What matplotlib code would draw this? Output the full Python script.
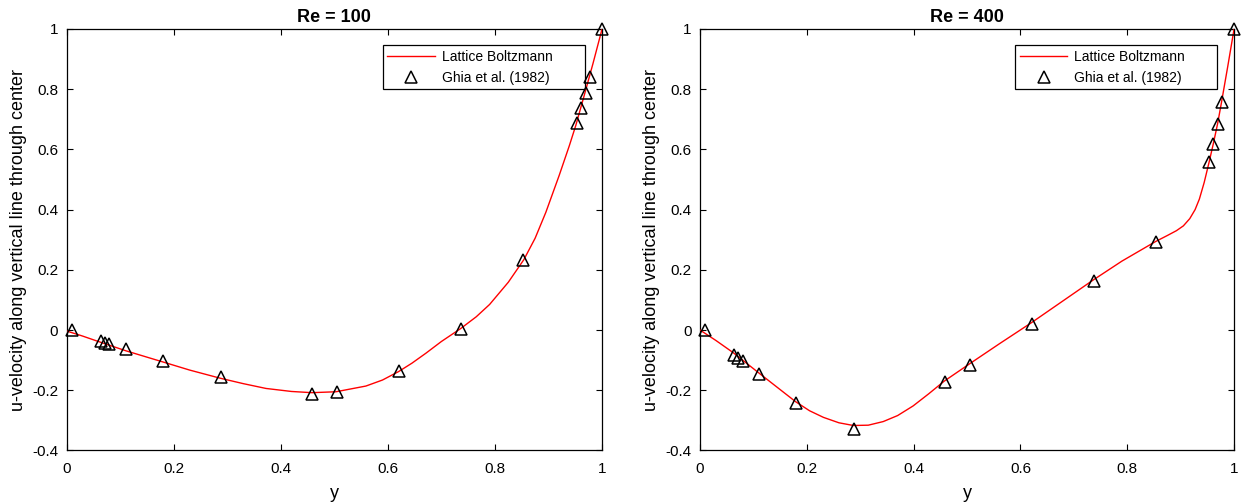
import matplotlib
matplotlib.use("Agg")
import matplotlib.pyplot as plt
from matplotlib.ticker import FuncFormatter

plt.rcParams['font.family'] = ['Liberation Sans', 'DejaVu Sans']

# Ghia et al. (1982) reference points (positions as plotted)
ghia_y = [0.010, 0.0642, 0.0719, 0.0796, 0.1106, 0.1802, 0.2885, 0.4586,
          0.505, 0.621, 0.737, 0.853, 0.9536, 0.9613, 0.9691, 0.9768, 1.000]
ghia_u_re100 = [0.0, -0.0372, -0.0419, -0.0478, -0.0643, -0.1015, -0.1566,
                -0.2109, -0.2058, -0.1364, 0.0033, 0.2315, 0.6872, 0.7372,
                0.7887, 0.8412, 1.0]
ghia_u_re400 = [0.0, -0.0819, -0.0927, -0.1034, -0.1461, -0.2430, -0.3273,
                -0.1712, -0.1148, 0.0214, 0.1626, 0.2909, 0.5589, 0.6176,
                0.6844, 0.7584, 1.0]

# Lattice Boltzmann profiles
lb_y_re100 = [0.0, 0.03, 0.061, 0.111, 0.18, 0.23, 0.287, 0.33, 0.3725,
              0.42, 0.458, 0.503, 0.559, 0.59, 0.62, 0.645, 0.671, 0.70,
              0.736, 0.765, 0.79, 0.825, 0.854, 0.875, 0.895, 0.92, 0.939,
              0.951, 0.966, 0.983, 1.0]
lb_u_re100 = [-0.003, -0.020, -0.039, -0.069, -0.106, -0.133, -0.160,
              -0.178, -0.194, -0.204, -0.208, -0.205, -0.186, -0.166, -0.138,
              -0.110, -0.077, -0.038, 0.005, 0.044, 0.085, 0.159, 0.234,
              0.305, 0.391, 0.514, 0.613, 0.680, 0.775, 0.885, 1.0]

lb_y_re400 = [0.0, 0.03, 0.062, 0.109, 0.179, 0.205, 0.231, 0.26, 0.287,
              0.315, 0.343, 0.37, 0.399, 0.428, 0.457, 0.504, 0.561, 0.621,
              0.736, 0.79, 0.853, 0.875, 0.892, 0.905, 0.917, 0.927, 0.935,
              0.944, 0.953, 0.961, 0.969, 0.976, 0.988, 1.0]
lb_u_re400 = [0.0, -0.035, -0.075, -0.141, -0.238, -0.268, -0.290, -0.308,
              -0.317, -0.316, -0.304, -0.284, -0.252, -0.212, -0.170, -0.113,
              -0.045, 0.025, 0.166, 0.229, 0.294, 0.314, 0.330, 0.346, 0.370,
              0.400, 0.435, 0.490, 0.556, 0.618, 0.684, 0.752, 0.874, 1.0]

titles = ["Re = 100", "Re = 400"]
xticks = [0, 0.2, 0.4, 0.6, 0.8, 1.0]
yticks = [-0.4, -0.2, 0, 0.2, 0.4, 0.6, 0.8, 1.0]

fig = plt.figure(figsize=(12.53, 5.04), dpi=100)
ax1 = fig.add_axes([0.0531, 0.1062, 0.4274, 0.8363])
ax2 = fig.add_axes([0.5587, 0.1062, 0.4262, 0.8363])

fmt = FuncFormatter(lambda v, p: "%g" % round(v, 6))

panels = [(ax1, lb_y_re100, lb_u_re100, ghia_u_re100, titles[0]),
          (ax2, lb_y_re400, lb_u_re400, ghia_u_re400, titles[1])]

for ax, ly, lu, gu, title in panels:
    ax.plot(ly, lu, color='#ff0000', lw=1.0, label='Lattice Boltzmann',
            zorder=3)
    ax.plot(ghia_y, gu, linestyle='none', marker='^', markersize=8.7,
            markerfacecolor='none', markeredgecolor='black',
            markeredgewidth=1.1, label='Ghia et al. (1982)', clip_on=False,
            zorder=4)
    ax.set_xlim(0, 1)
    ax.set_ylim(-0.4, 1)
    ax.set_xticks(xticks)
    ax.set_yticks(yticks)
    ax.xaxis.set_major_formatter(fmt)
    ax.yaxis.set_major_formatter(fmt)
    ax.tick_params(direction='in', length=4, width=0.8, top=True, right=True,
                   labelsize=11, colors='black')
    ax.tick_params(axis='x', pad=8)
    ax.tick_params(axis='y', pad=6)
    for s in ax.spines.values():
        s.set_linewidth(0.9)
        s.set_color('black')
    ax.set_title(title, fontsize=13, fontweight='bold', pad=4.8)
    ax.set_xlabel('y', fontsize=13, labelpad=7)
    ax.set_ylabel('u-velocity along vertical line through center',
                  fontsize=13, labelpad=4)
    leg = ax.legend(loc='upper right',
                    bbox_to_anchor=(0.5905, 0.5, 0.3778, 0.462),
                    mode='expand', borderaxespad=0, fontsize=10, numpoints=1,
                    fancybox=False, framealpha=1, edgecolor='black',
                    handlelength=3.4, handletextpad=0.5, labelspacing=0.5,
                    borderpad=0.33)
    leg.get_frame().set_linewidth(0.9)
    leg.set_zorder(1)

fig.savefig('out.png', dpi=100)
